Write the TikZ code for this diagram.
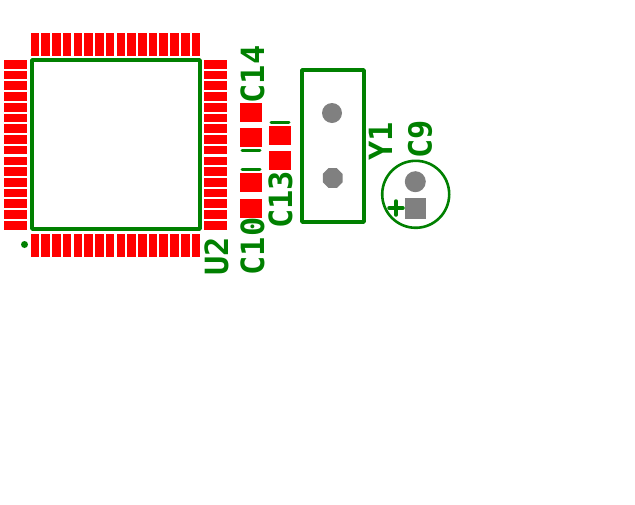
\documentclass[tikz,border=0pt]{standalone}
\usepackage{fontspec}
\setmonofont{DejaVu Sans Mono}
\usetikzlibrary{
  calc, math,
  shapes.geometric,
}
\definecolor{silkgreen}{RGB}{0,128,0}
\definecolor{padred}{RGB}{255,0,0}
\definecolor{holegray}{RGB}{128,128,128}

\begin{document}
\begin{tikzpicture}[
    x=1pt, y=-1pt,
    silk/.style={draw=silkgreen, line width=4pt, line join=bevel},
    silkbar/.style={silk, line cap=round},
    padv/.style={fill=padred, inner sep=0, minimum width=8.6pt, minimum height=23pt},
    padh/.style={fill=padred, inner sep=0, minimum width=23pt, minimum height=8.6pt},
    padc/.style={fill=padred, inner sep=0, minimum width=22pt, minimum height=19pt},
    hole/.style={fill=holegray, inner sep=0, minimum size=20pt},
    lab/.style={font=\ttfamily\bfseries\fontsize{32}{32}\selectfont, text=silkgreen,
        rotate=90, inner sep=0, text height=23.3pt, text depth=0pt},
  ]
  \useasboundingbox (0,0) rectangle (635,504);

  % chip pads
  \foreach \i in {0,...,15} {
      \node[padv] (top\i) at ({35+10.73*\i},44.5) {};
      \node[padv] (bot\i) at ({35+10.73*\i},245) {};
      \node[padh] (lft\i) at (15.5,{64.3+10.73*\i}) {};
      \node[padh] (rgt\i) at (215.5,{64.3+10.73*\i}) {};
    }
  \draw[silk] (32,60) rectangle (200,229);
  \node[circle, fill=silkgreen, inner sep=0, minimum size=7pt] (pinone) at (24.5,244.5) {};
  \node[lab] (u2) at (216.5,256) {U2};

  % chip capacitors
  \node[padc] (c14a) at (251,112) {};
  \node[padc] (c14b) at (251,137.5) {};
  \node[padc] (c10a) at (251,182.5) {};
  \node[padc] (c10b) at (251,208) {};
  \node[padc] (c13a) at (280,135.5) {};
  \node[padc] (c13b) at (280,160.5) {};
  \draw[silkbar, line width=3pt] (242,150) -- (260,150);
  \draw[silkbar, line width=3pt] (242,169) -- (260,169);
  \draw[silkbar, line width=3pt] (271,122) -- (289,122);
  \node[lab] (c14) at (252.5,74.5) {C14};
  \node[lab] (c10) at (252.5,246.5) {C10};
  \node[lab] (c13) at (280.5,200) {C13};

  % crystal
  \draw[silk] (301.5,70) rectangle (364,221.5);
  \node[hole, circle] (y1a) at (332,113) {};
  \node[hole, regular polygon, regular polygon sides=8, minimum size=21.5pt] (y1b) at (332.7,178) {};
  \node[lab] (y1) at (380.5,141) {Y1};

  % electrolytic capacitor
  \node[circle, draw=silkgreen, line width=2.6pt, inner sep=0, minimum size=67pt] (c9body) at (415.7,194.3) {};
  \node[hole, circle, minimum size=21pt] (c9a) at (415.3,181.7) {};
  \node[hole, minimum size=21pt] (c9b) at (415.5,208.5) {};
  \draw[silkbar, line width=3.5pt] (389,208) -- (403,208);
  \draw[silkbar, line width=3.5pt] (396,201) -- (396,215);
  \node[lab] (c9) at (420,139) {C9};
\end{tikzpicture}
\end{document}
